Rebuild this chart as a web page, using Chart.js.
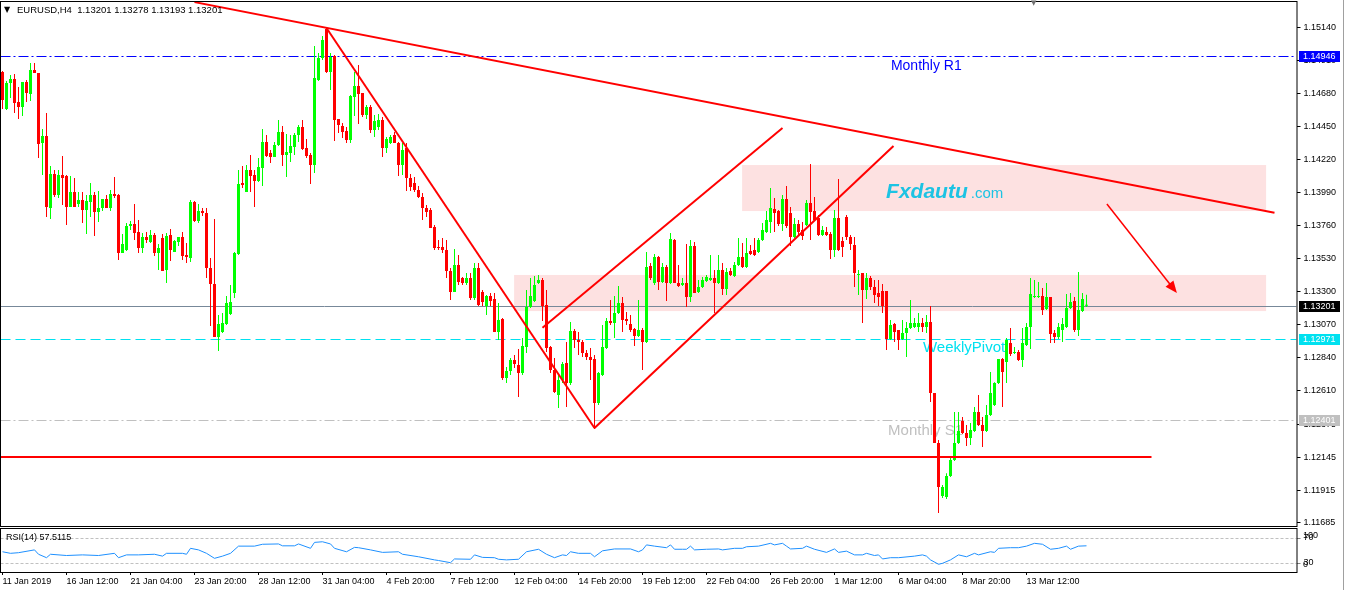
<!DOCTYPE html>
<html>
<head>
<meta charset="utf-8">
<title>EURUSD H4</title>
<script src="https://cdn.jsdelivr.net/npm/chart.js@4.4.1/dist/chart.umd.min.js"></script>
<style>
  html, body { margin: 0; padding: 0; background: #fff; }
  #wrap { position: relative; width: 1347px; height: 590px; overflow: hidden; background: #fff; }
  #main { position: absolute; left: 0; top: 0; }
  #rsi { position: absolute; left: 0; top: 527px; }
  #edge { position: absolute; left: 1343px; top: 0; width: 1px; height: 590px; background: #a0a0a0; }
</style>
</head>
<body>
<div id="wrap">
  <canvas id="main" width="1347" height="527"></canvas>
  <canvas id="rsi" width="1347" height="63"></canvas>
  <div id="edge"></div>
</div>
<script>
(function() {

    // EURUSD H4 candles, [open, high, low, close]
    let bars = [
      [1.14832, 1.14839, 1.14574, 1.14637], [1.14574, 1.14770, 1.14567, 1.14756], [1.14756, 1.14811, 1.14651, 1.14783], [1.14783, 1.14818, 1.14546, 1.14616],
      [1.14623, 1.14728, 1.14504, 1.14588], [1.14588, 1.14763, 1.14525, 1.14763], [1.14763, 1.14777, 1.14623, 1.14686], [1.14679, 1.14895, 1.14630, 1.14846],
      [1.14846, 1.14895, 1.14825, 1.14825], [1.14825, 1.14825, 1.14232, 1.14330], [1.14337, 1.14434, 1.14113, 1.14386], [1.14386, 1.14546, 1.13820, 1.13890],
      [1.13883, 1.14176, 1.13806, 1.14120], [1.14120, 1.14148, 1.13960, 1.13974], [1.13974, 1.14148, 1.13953, 1.14113], [1.14113, 1.14246, 1.13904, 1.14093],
      [1.14107, 1.14113, 1.13764, 1.13890], [1.13890, 1.14107, 1.13890, 1.13995], [1.13995, 1.14093, 1.13890, 1.13890], [1.13911, 1.13995, 1.13890, 1.13939],
      [1.13939, 1.13995, 1.13778, 1.13869], [1.13869, 1.13974, 1.13702, 1.13932], [1.13925, 1.14058, 1.13820, 1.13974], [1.13974, 1.13995, 1.13688, 1.13855],
      [1.13855, 1.14002, 1.13785, 1.13883], [1.13883, 1.13946, 1.13862, 1.13946], [1.13946, 1.13974, 1.13883, 1.13883], [1.13883, 1.14009, 1.13862, 1.13981],
      [1.13981, 1.14100, 1.13953, 1.13967], [1.13974, 1.13981, 1.13520, 1.13569], [1.13569, 1.13702, 1.13569, 1.13632], [1.13590, 1.13778, 1.13583, 1.13758],
      [1.13758, 1.13792, 1.13730, 1.13771], [1.13771, 1.13911, 1.13660, 1.13709], [1.13716, 1.13799, 1.13569, 1.13604], [1.13604, 1.13709, 1.13569, 1.13681],
      [1.13681, 1.13716, 1.13639, 1.13660], [1.13646, 1.13730, 1.13639, 1.13695], [1.13695, 1.13709, 1.13548, 1.13569], [1.13569, 1.13632, 1.13450, 1.13604],
      [1.13674, 1.13702, 1.13443, 1.13443], [1.13450, 1.13709, 1.13360, 1.13688], [1.13695, 1.13737, 1.13513, 1.13590], [1.13576, 1.13660, 1.13576, 1.13653],
      [1.13646, 1.13681, 1.13618, 1.13681], [1.13681, 1.13716, 1.13520, 1.13548], [1.13555, 1.13639, 1.13499, 1.13541], [1.13534, 1.13939, 1.13506, 1.13925],
      [1.13925, 1.13932, 1.13785, 1.13792], [1.13792, 1.13911, 1.13778, 1.13862], [1.13862, 1.13883, 1.13827, 1.13848], [1.13848, 1.13883, 1.13395, 1.13464],
      [1.13464, 1.13534, 1.13059, 1.13353], [1.13353, 1.13806, 1.12983, 1.12983], [1.12983, 1.13136, 1.12885, 1.13073], [1.13018, 1.13150, 1.13011, 1.13080],
      [1.13073, 1.13269, 1.13066, 1.13220], [1.13143, 1.13346, 1.13136, 1.13227], [1.13290, 1.13576, 1.13255, 1.13569], [1.13562, 1.14148, 1.13555, 1.14051],
      [1.14058, 1.14176, 1.14023, 1.14044], [1.13995, 1.14183, 1.13995, 1.14148], [1.14148, 1.14253, 1.13995, 1.14107], [1.14113, 1.14148, 1.13890, 1.14072],
      [1.14072, 1.14232, 1.14065, 1.14169], [1.14162, 1.14434, 1.14037, 1.14344], [1.14344, 1.14393, 1.14239, 1.14246], [1.14267, 1.14288, 1.14197, 1.14239],
      [1.14239, 1.14344, 1.14239, 1.14323], [1.14323, 1.14497, 1.14316, 1.14414], [1.14414, 1.14456, 1.14176, 1.14253], [1.14253, 1.14400, 1.14100, 1.14274],
      [1.14267, 1.14393, 1.14204, 1.14316], [1.14309, 1.14407, 1.14253, 1.14393], [1.14393, 1.14463, 1.14344, 1.14449], [1.14449, 1.14497, 1.14288, 1.14295],
      [1.14302, 1.14365, 1.14232, 1.14246], [1.14253, 1.14267, 1.14051, 1.14183], [1.14183, 1.15014, 1.14127, 1.14791], [1.14777, 1.14965, 1.14770, 1.14930],
      [1.14930, 1.15084, 1.14916, 1.15056], [1.15133, 1.15147, 1.14825, 1.14832], [1.14832, 1.14965, 1.14707, 1.14937], [1.14944, 1.14951, 1.14351, 1.14497],
      [1.14504, 1.14504, 1.14407, 1.14463], [1.14456, 1.14476, 1.14372, 1.14414], [1.14421, 1.14449, 1.14337, 1.14358], [1.14358, 1.14672, 1.14337, 1.14665],
      [1.14658, 1.14832, 1.14525, 1.14735], [1.14735, 1.14881, 1.14469, 1.14679], [1.14686, 1.14686, 1.14518, 1.14532], [1.14532, 1.14602, 1.14504, 1.14588],
      [1.14588, 1.14602, 1.14407, 1.14428], [1.14428, 1.14532, 1.14379, 1.14490], [1.14449, 1.14539, 1.14428, 1.14497], [1.14497, 1.14518, 1.14239, 1.14302],
      [1.14302, 1.14379, 1.14267, 1.14365], [1.14337, 1.14393, 1.14330, 1.14379], [1.14393, 1.14414, 1.14337, 1.14337], [1.14337, 1.14344, 1.14107, 1.14183],
      [1.14183, 1.14337, 1.14113, 1.14288], [1.14302, 1.14337, 1.14002, 1.14093], [1.14093, 1.14120, 1.14002, 1.14030], [1.14058, 1.14100, 1.13995, 1.14009],
      [1.14009, 1.14037, 1.13953, 1.13960], [1.13960, 1.13988, 1.13799, 1.13883], [1.13883, 1.13904, 1.13820, 1.13855], [1.13869, 1.13883, 1.13744, 1.13744],
      [1.13751, 1.13765, 1.13590, 1.13604], [1.13611, 1.13660, 1.13590, 1.13604], [1.13611, 1.13674, 1.13569, 1.13590], [1.13590, 1.13660, 1.13395, 1.13443],
      [1.13443, 1.13464, 1.13241, 1.13297], [1.13297, 1.13597, 1.13297, 1.13485], [1.13485, 1.13555, 1.13346, 1.13367], [1.13395, 1.13401, 1.13346, 1.13360],
      [1.13360, 1.13429, 1.13346, 1.13395], [1.13395, 1.13429, 1.13241, 1.13255], [1.13255, 1.13499, 1.13241, 1.13464], [1.13464, 1.13499, 1.13199, 1.13206],
      [1.13297, 1.13311, 1.13199, 1.13227], [1.13199, 1.13276, 1.13136, 1.13269], [1.13269, 1.13290, 1.13199, 1.13234], [1.13248, 1.13290, 1.13018, 1.13018],
      [1.13018, 1.13220, 1.12962, 1.13101], [1.13108, 1.13115, 1.12683, 1.12697], [1.12697, 1.12773, 1.12662, 1.12745], [1.12745, 1.12836, 1.12717, 1.12822],
      [1.12822, 1.12857, 1.12766, 1.12794], [1.12787, 1.12899, 1.12564, 1.12731], [1.12731, 1.12976, 1.12717, 1.12920], [1.12913, 1.13311, 1.12871, 1.13192],
      [1.13192, 1.13395, 1.13185, 1.13269], [1.13234, 1.13408, 1.13227, 1.13346], [1.13360, 1.13415, 1.13353, 1.13381], [1.13381, 1.13395, 1.13094, 1.13199],
      [1.13206, 1.13311, 1.12878, 1.12906], [1.12913, 1.12920, 1.12731, 1.12752], [1.12752, 1.12836, 1.12592, 1.12599], [1.12578, 1.12717, 1.12487, 1.12683],
      [1.12683, 1.12808, 1.12662, 1.12794], [1.12801, 1.12948, 1.12494, 1.12662], [1.12662, 1.13087, 1.12648, 1.13025], [1.13025, 1.13039, 1.12906, 1.12962],
      [1.12962, 1.13018, 1.12857, 1.12948], [1.12948, 1.12962, 1.12843, 1.12871], [1.12871, 1.12892, 1.12822, 1.12843], [1.12843, 1.12906, 1.12683, 1.12822],
      [1.12829, 1.12857, 1.12341, 1.12522], [1.12522, 1.12738, 1.12508, 1.12731], [1.12717, 1.13066, 1.12710, 1.12913], [1.12906, 1.13115, 1.12899, 1.13094],
      [1.13094, 1.13241, 1.13066, 1.13080], [1.13080, 1.13269, 1.12976, 1.13150], [1.13150, 1.13339, 1.13143, 1.13220], [1.13220, 1.13262, 1.13018, 1.13101],
      [1.13108, 1.13157, 1.13066, 1.13094], [1.13073, 1.13136, 1.13018, 1.13032], [1.13039, 1.13046, 1.12920, 1.12990], [1.12990, 1.13241, 1.12983, 1.13032],
      [1.13032, 1.13046, 1.12752, 1.12948], [1.12948, 1.13576, 1.12941, 1.13471], [1.13478, 1.13499, 1.13381, 1.13395], [1.13360, 1.13562, 1.13346, 1.13541],
      [1.13541, 1.13548, 1.13311, 1.13367], [1.13367, 1.13499, 1.13360, 1.13471], [1.13471, 1.13485, 1.13234, 1.13360], [1.13360, 1.13709, 1.13353, 1.13667],
      [1.13660, 1.13667, 1.13360, 1.13360], [1.13360, 1.13485, 1.13332, 1.13339], [1.13346, 1.13395, 1.13339, 1.13360], [1.13360, 1.13632, 1.13192, 1.13262],
      [1.13262, 1.13660, 1.13227, 1.13618], [1.13618, 1.13646, 1.13290, 1.13290], [1.13297, 1.13381, 1.13290, 1.13332], [1.13332, 1.13401, 1.13325, 1.13381],
      [1.13374, 1.13415, 1.13367, 1.13401], [1.13381, 1.13555, 1.13374, 1.13395], [1.13395, 1.13450, 1.13150, 1.13360], [1.13360, 1.13555, 1.13353, 1.13450],
      [1.13450, 1.13499, 1.13276, 1.13318], [1.13318, 1.13464, 1.13276, 1.13436], [1.13443, 1.13464, 1.13408, 1.13415], [1.13408, 1.13506, 1.13401, 1.13485],
      [1.13485, 1.13674, 1.13478, 1.13541], [1.13541, 1.13639, 1.13464, 1.13471], [1.13471, 1.13674, 1.13464, 1.13569], [1.13583, 1.13625, 1.13555, 1.13562],
      [1.13590, 1.13674, 1.13548, 1.13555], [1.13576, 1.13674, 1.13569, 1.13660], [1.13660, 1.13778, 1.13653, 1.13730], [1.13716, 1.13862, 1.13709, 1.13799],
      [1.13785, 1.14023, 1.13709, 1.13883], [1.13876, 1.13953, 1.13716, 1.13848], [1.13862, 1.13869, 1.13758, 1.13771], [1.13771, 1.13974, 1.13723, 1.13946],
      [1.13946, 1.14037, 1.13744, 1.13758], [1.13848, 1.13890, 1.13618, 1.13681], [1.13681, 1.13813, 1.13674, 1.13771], [1.13771, 1.13799, 1.13688, 1.13716],
      [1.13730, 1.13785, 1.13660, 1.13688], [1.13764, 1.13939, 1.13758, 1.13918], [1.13918, 1.14190, 1.13660, 1.13855], [1.13862, 1.13960, 1.13792, 1.13799],
      [1.13813, 1.13834, 1.13688, 1.13695], [1.13695, 1.13758, 1.13688, 1.13730], [1.13716, 1.13751, 1.13688, 1.13695], [1.13702, 1.13716, 1.13527, 1.13590],
      [1.13590, 1.13869, 1.13541, 1.13813], [1.13813, 1.14086, 1.13583, 1.13590], [1.13653, 1.13681, 1.13541, 1.13611], [1.13820, 1.13834, 1.13660, 1.13681],
      [1.13681, 1.13695, 1.13590, 1.13632], [1.13625, 1.13681, 1.13332, 1.13429], [1.13415, 1.13450, 1.13276, 1.13422], [1.13429, 1.13429, 1.13080, 1.13311],
      [1.13311, 1.13429, 1.13248, 1.13395], [1.13395, 1.13408, 1.13311, 1.13332], [1.13332, 1.13381, 1.13220, 1.13276], [1.13290, 1.13381, 1.13199, 1.13262],
      [1.13304, 1.13353, 1.13150, 1.13199], [1.13304, 1.13304, 1.12892, 1.12969], [1.12969, 1.13101, 1.12962, 1.13066], [1.13073, 1.13080, 1.12948, 1.13018],
      [1.13032, 1.13032, 1.12892, 1.12962], [1.12969, 1.13101, 1.12962, 1.13011], [1.13011, 1.13087, 1.12843, 1.13046], [1.13046, 1.13241, 1.13039, 1.13080],
      [1.13052, 1.13115, 1.13046, 1.13080], [1.13052, 1.13150, 1.13018, 1.13080], [1.13080, 1.13115, 1.13018, 1.13052], [1.13052, 1.13136, 1.13011, 1.13087],
      [1.13087, 1.13199, 1.12529, 1.12592], [1.12592, 1.12592, 1.12243, 1.12243], [1.12243, 1.12264, 1.11754, 1.11936], [1.11873, 1.11950, 1.11859, 1.11936],
      [1.11866, 1.12033, 1.11852, 1.12013], [1.12013, 1.12152, 1.12006, 1.12124], [1.12124, 1.12459, 1.12117, 1.12243], [1.12243, 1.12459, 1.12236, 1.12327],
      [1.12396, 1.12424, 1.12306, 1.12313], [1.12313, 1.12369, 1.12222, 1.12278], [1.12278, 1.12382, 1.12229, 1.12334], [1.12327, 1.12494, 1.12320, 1.12459],
      [1.12459, 1.12578, 1.12362, 1.12369], [1.12369, 1.12424, 1.12215, 1.12327], [1.12327, 1.12508, 1.12320, 1.12438], [1.12438, 1.12738, 1.12431, 1.12592],
      [1.12508, 1.12668, 1.12501, 1.12662], [1.12662, 1.12829, 1.12655, 1.12829], [1.12829, 1.12836, 1.12494, 1.12738], [1.12808, 1.12976, 1.12662, 1.12962],
      [1.12941, 1.13046, 1.12850, 1.12864], [1.12871, 1.12913, 1.12864, 1.12878], [1.12878, 1.12892, 1.12815, 1.12822], [1.12822, 1.13046, 1.12773, 1.12941],
      [1.12927, 1.13080, 1.12920, 1.13052], [1.13052, 1.13395, 1.12899, 1.13283], [1.13262, 1.13381, 1.13255, 1.13269], [1.13262, 1.13367, 1.13255, 1.13269],
      [1.13269, 1.13325, 1.13136, 1.13171], [1.13178, 1.13360, 1.13171, 1.13262], [1.13262, 1.13262, 1.12941, 1.13004], [1.13011, 1.13032, 1.12941, 1.12983],
      [1.12983, 1.13080, 1.12969, 1.13052], [1.13032, 1.13115, 1.12948, 1.13073], [1.13052, 1.13283, 1.13046, 1.13185], [1.13185, 1.13290, 1.13178, 1.13227],
      [1.13234, 1.13262, 1.13018, 1.13032], [1.13032, 1.13436, 1.12990, 1.13171], [1.13164, 1.13290, 1.13157, 1.13248], [1.13201, 1.13278, 1.13193, 1.13201]
    ];

    // RSI(14): bar index and value
    let rsiBars = [0, 2, 4, 8, 9, 11, 12, 16, 20, 24, 28, 29, 31, 34, 38, 40, 41, 45, 46, 47, 49, 51, 53, 55, 57, 59, 63, 65, 69, 70,
      73, 74, 77, 78, 80, 82, 83, 86, 88, 89, 92, 95, 99, 100, 104, 108, 109, 112, 113, 117, 118, 120, 123, 124, 126, 129, 131, 134, 136, 138,
      140, 141, 142, 144, 147, 148, 150, 153, 157, 159, 160, 161, 163, 166, 167, 168, 170, 171, 172, 173, 176, 179, 180, 183, 185, 186, 189, 192, 193, 195,
      196, 197, 200, 201, 203, 206, 208, 209, 211, 213, 215, 216, 218, 219, 220, 222, 224, 228, 230, 231, 232, 234, 235, 237, 239, 241, 243, 244, 247, 248,
      249, 252, 254, 256, 258, 260, 262, 264, 266, 267, 269, 271];
    let rsiValues = [48, 45.5, 46.5, 51, 44, 38.5, 44, 42, 43, 42, 45.5, 38.5, 43, 43, 44, 41, 45.5, 45.5, 44, 53.5, 51, 45.5, 37.5, 41, 45.5, 57, 57, 60, 60.5, 57.5,
      57.5, 60.5, 53.5, 63, 64, 60.5, 53.5, 48, 55, 54.5, 51, 47, 48, 44, 40, 35, 34, 30.5, 36.5, 36, 43, 39, 38.5, 36, 35, 36, 48, 52, 44, 38.5,
      43, 42, 48, 45.5, 45.5, 40, 49.5, 52.5, 52.5, 48, 51, 59, 57, 54.5, 59, 52, 52, 52, 57, 51, 52, 52.5, 51, 53.5, 53.5, 56, 57, 61.5, 59, 61.5,
      57, 52.5, 53.5, 57, 52, 47, 52.5, 47, 49, 43, 43, 45.5, 42, 43, 36.5, 38.5, 38.5, 41, 43, 41, 35, 28, 29.5, 35, 43, 40, 45.5, 43, 48, 47,
      53.5, 54.5, 54.5, 57, 61.5, 60, 52, 53.5, 57, 52, 57, 57.5115];

    let rsiLevels = [70, 30];

    // time axis labels, one every 16 bars
    let timeLabels = ['11 Jan 2019', '16 Jan 12:00', '21 Jan 04:00', '23 Jan 20:00', '28 Jan 12:00', '31 Jan 04:00', '4 Feb 20:00', '7 Feb 12:00',
      '12 Feb 04:00', '14 Feb 20:00', '19 Feb 12:00', '22 Feb 04:00', '26 Feb 20:00', '1 Mar 12:00', '6 Mar 04:00', '8 Mar 20:00', '13 Mar 12:00'];
    let labelStep = 16;

    let priceTicks = [1.15140, 1.14910, 1.14680, 1.14450, 1.14220, 1.13990, 1.13760, 1.13530, 1.13300,
      1.13070, 1.12840, 1.12610, 1.12375, 1.12145, 1.11915, 1.11685];

    // horizontal levels drawn across the chart
    let levels = {
      monthlyR1: 1.14946,
      weeklyPivot: 1.12971,
      monthlyS1: 1.12401,
      bid: 1.13201,
      support: 1.12145
    };

    // trend lines: [bar, price] -> [bar, price]
    let trendLines = [
      [[48, 1.15320], [318, 1.13850]],
      [[81, 1.15140], [148, 1.12348]],
      [[135, 1.13048], [195, 1.14442]],
      [[148, 1.12348], [222.75, 1.14316]]
    ];
    let supportEnd = 287.25;
    let arrow = [[276.1, 1.13911], [293.6, 1.13290]];

    // shaded zones: bar from, bar to, upper price, lower price
    let zones = [
      [184.9, 315.9, 1.14183, 1.13862],
      [127.9, 315.9, 1.13416, 1.13164]
    ];

    let slots = 324;
    let priceMin = 1.11664, priceMax = 1.15321;
    let rsiMin = 15.6, rsiMax = 86;

    let font = "'Liberation Sans', Arial, sans-serif";
    let green = '#00ff00', red = '#ff0000', cyan = '#00e1f0';

    Chart.defaults.font.family = font;
    Chart.defaults.font.size = 9;
    Chart.defaults.color = '#000';

    let candleColor = b => b[3] >= b[0] ? green : red;

    /**
     * Draws objects, levels and labels of the price window
     */
    let overlay = {
        id: 'overlay',
        beforeDatasetsDraw(chart) {
            let { ctx, chartArea: a, scales: { x, y } } = chart;
            ctx.save();
            ctx.beginPath();
            ctx.rect(a.left, a.top, a.right - a.left, a.bottom - a.top);
            ctx.clip();

            ctx.fillStyle = '#fde1e1';
            zones.forEach(z => {
                let x0 = x.getPixelForValue(z[0]), x1 = x.getPixelForValue(z[1]);
                let y0 = y.getPixelForValue(z[2]), y1 = y.getPixelForValue(z[3]);
                ctx.fillRect(x0, y0, x1 - x0, y1 - y0);
            });

            let hline = (price, color, dash) => {
                let yy = Math.round(y.getPixelForValue(price)) + 0.5;
                ctx.strokeStyle = color;
                ctx.lineWidth = 1;
                ctx.setLineDash(dash);
                ctx.beginPath();
                ctx.moveTo(a.left, yy);
                ctx.lineTo(a.right, yy);
                ctx.stroke();
            };
            hline(levels.monthlyR1, '#0000ff', [10, 3, 2, 3]);
            hline(levels.weeklyPivot, cyan, [10, 5]);
            hline(levels.monthlyS1, '#c0c0c0', [10, 3, 2, 3]);
            hline(levels.bid, '#778899', []);
            ctx.setLineDash([]);

            let caption = (text, bar, price, color, f) => {
                ctx.font = f;
                ctx.fillStyle = color;
                ctx.textBaseline = 'alphabetic';
                ctx.textAlign = 'left';
                ctx.fillText(text, x.getPixelForValue(bar), y.getPixelForValue(price));
            };
            caption('Monthly R1', 222.1, 1.14846, '#0000ff', '14px ' + font);
            caption('WeeklyPivot', 230.1, 1.12878, cyan, '15px ' + font);
            caption('Monthly S1', 221.4, 1.12299, '#c0c0c0', '15px ' + font);
            caption('Fxdautu', 220.9, 1.13953, '#1cc3e3', 'italic bold 21px ' + font);
            ctx.font = 'italic bold 21px ' + font;
            let w = ctx.measureText('Fxdautu').width;
            ctx.font = '15px ' + font;
            ctx.fillStyle = '#1cc3e3';
            ctx.fillText('.com', x.getPixelForValue(220.9) + w + 3, y.getPixelForValue(1.13953));
            ctx.restore();
        },
        afterDatasetsDraw(chart) {
            let { ctx, chartArea: a, scales: { x, y } } = chart;
            let pt = p => [x.getPixelForValue(p[0]), y.getPixelForValue(p[1])];
            ctx.save();
            ctx.beginPath();
            ctx.rect(a.left, a.top, a.right - a.left, a.bottom - a.top);
            ctx.clip();
            ctx.strokeStyle = red;
            ctx.fillStyle = red;
            ctx.lineWidth = 2;

            trendLines.forEach(t => {
                let p0 = pt(t[0]), p1 = pt(t[1]);
                ctx.beginPath();
                ctx.moveTo(p0[0], p0[1]);
                ctx.lineTo(p1[0], p1[1]);
                ctx.stroke();
            });

            let sy = Math.round(y.getPixelForValue(levels.support));
            ctx.beginPath();
            ctx.moveTo(a.left, sy);
            ctx.lineTo(x.getPixelForValue(supportEnd), sy);
            ctx.stroke();

            let p0 = pt(arrow[0]), p1 = pt(arrow[1]);
            let ang = Math.atan2(p1[1] - p0[1], p1[0] - p0[0]);
            ctx.lineWidth = 1.5;
            ctx.beginPath();
            ctx.moveTo(p0[0], p0[1]);
            ctx.lineTo(p1[0] - 8 * Math.cos(ang), p1[1] - 8 * Math.sin(ang));
            ctx.stroke();
            ctx.beginPath();
            ctx.moveTo(p1[0], p1[1]);
            ctx.lineTo(p1[0] - 12 * Math.cos(ang) + 5 * Math.sin(ang), p1[1] - 12 * Math.sin(ang) - 5 * Math.cos(ang));
            ctx.lineTo(p1[0] - 12 * Math.cos(ang) - 5 * Math.sin(ang), p1[1] - 12 * Math.sin(ang) + 5 * Math.cos(ang));
            ctx.closePath();
            ctx.fill();
            ctx.restore();
        },
        afterDraw(chart) {
            let { ctx, chartArea: a, scales: { y } } = chart;
            ctx.save();
            ctx.strokeStyle = '#000';
            ctx.lineWidth = 1;
            ctx.strokeRect(0.5, 1.5, Math.round(a.right) - 0.5, 525);

            // price tags on the axis
            let tag = (price, bg) => {
                let yy = Math.round(y.getPixelForValue(price));
                ctx.fillStyle = bg;
                ctx.fillRect(a.right + 2.5, yy - 5, 41, 11);
                ctx.fillStyle = '#fff';
                ctx.font = '9px ' + font;
                ctx.textBaseline = 'middle';
                ctx.textAlign = 'left';
                ctx.fillText(price.toFixed(5), a.right + 6.5, yy + 0.5);
            };
            tag(levels.monthlyR1, '#0000ff');
            tag(levels.bid, '#000000');
            tag(levels.weeklyPivot, cyan);
            tag(levels.monthlyS1, '#c0c0c0');

            // window header
            let last = bars[bars.length - 1];
            ctx.fillStyle = '#000';
            ctx.font = '8px DejaVu Sans';
            ctx.textBaseline = 'middle';
            ctx.fillText('\u25BC', 4, 10);
            ctx.font = '9.5px ' + font;
            ctx.fillText('EURUSD,H4  ' + last.map(v => v.toFixed(5)).join(' '), 17, 10.5);
            ctx.fillStyle = '#707070';
            ctx.font = '7px DejaVu Sans';
            ctx.fillText('\u25BC', 1031, 3);
            ctx.restore();
        }
    };

    /**
     * Draws the RSI panel frame, levels and header
     */
    let rsiOverlay = {
        id: 'rsiOverlay',
        beforeDatasetsDraw(chart) {
            let { ctx, chartArea: a, scales: { y } } = chart;
            ctx.save();
            ctx.strokeStyle = '#c0c0c0';
            ctx.lineWidth = 1;
            ctx.setLineDash([3, 2]);
            rsiLevels.forEach(l => {
                let yy = Math.round(y.getPixelForValue(l)) + 0.5;
                ctx.beginPath();
                ctx.moveTo(a.left, yy);
                ctx.lineTo(a.right, yy);
                ctx.stroke();
            });
            ctx.restore();
        },
        afterDraw(chart) {
            let { ctx, chartArea: a, scales: { y } } = chart;
            ctx.save();
            ctx.strokeStyle = '#000';
            ctx.lineWidth = 1;
            ctx.strokeRect(0.5, 1.5, Math.round(a.right) - 0.5, 44);
            ctx.fillStyle = '#000';
            ctx.font = '9px ' + font;
            ctx.textBaseline = 'middle';
            ctx.fillText('RSI(14) ' + rsiValues[rsiValues.length - 1].toFixed(4), 6, 10.5);
            ctx.fillText('100', a.right + 6.5, y.getPixelForValue(rsiLevels[0]) - 2);
            ctx.fillText('0', a.right + 6.5, y.getPixelForValue(rsiLevels[1]) + 2);
            ctx.restore();
        }
    };

    let noPad = s => { s.paddingTop = 0; s.paddingBottom = 0; s.paddingLeft = 0; s.paddingRight = 0; };

    new Chart(document.getElementById('main'), {
        type: 'bar',
        data: {
            labels: Array.from({ length: slots }, (_, i) => i),
            datasets: [
                {
                    label: 'wick',
                    data: bars.map(b => [b[2], b[1]]),
                    backgroundColor: bars.map(candleColor),
                    barThickness: 1,
                    minBarLength: 1
                },
                {
                    label: 'body',
                    data: bars.map(b => [b[0], b[3]]),
                    backgroundColor: bars.map(candleColor),
                    barThickness: 3,
                    minBarLength: 1
                }
            ]
        },
        options: {
            responsive: false,
            animation: false,
            events: [],
            layout: { padding: { left: 0.5, top: 2, right: 0, bottom: 1 } },
            datasets: { bar: { grouped: false, inflateAmount: 0, borderWidth: 0, borderSkipped: false } },
            plugins: { legend: { display: false }, tooltip: { enabled: false } },
            scales: {
                x: { display: false, offset: true },
                y: {
                    position: 'right',
                    min: priceMin,
                    max: priceMax,
                    afterBuildTicks: s => { s.ticks = priceTicks.map(v => ({ value: v })); },
                    afterFit: s => { s.width = 50.5; noPad(s); },
                    ticks: { autoSkip: false, padding: 3, color: '#000', font: { size: 9 }, callback: v => Number(v).toFixed(5) },
                    grid: { drawOnChartArea: false, drawTicks: true, tickLength: 4, color: '#000' },
                    border: { display: false }
                }
            }
        },
        plugins: [overlay]
    });

    new Chart(document.getElementById('rsi'), {
        type: 'line',
        data: {
            datasets: [{
                label: 'RSI(14)',
                data: rsiBars.map((b, i) => ({ x: b, y: rsiValues[i] })),
                borderColor: '#1e90ff',
                borderWidth: 1,
                pointRadius: 0,
                tension: 0
            }]
        },
        options: {
            responsive: false,
            animation: false,
            events: [],
            layout: { padding: { left: 0.5, top: 1, right: 0, bottom: 0 } },
            plugins: { legend: { display: false }, tooltip: { enabled: false } },
            scales: {
                x: {
                    type: 'linear',
                    min: -0.5,
                    max: slots - 0.5,
                    afterBuildTicks: s => { s.ticks = timeLabels.map((t, i) => ({ value: i * labelStep })); },
                    afterFit: s => { s.height = 18; noPad(s); },
                    ticks: { autoSkip: false, maxRotation: 0, align: 'start', padding: 1, color: '#000', font: { size: 9 },
                        callback: v => timeLabels[Math.round(v / labelStep)] },
                    grid: { drawOnChartArea: false, drawTicks: true, tickLength: 3, color: '#000' },
                    border: { display: false }
                },
                y: {
                    position: 'right',
                    min: rsiMin,
                    max: rsiMax,
                    afterBuildTicks: s => { s.ticks = rsiLevels.map(v => ({ value: v })); },
                    afterFit: s => { s.width = 50.5; noPad(s); },
                    ticks: { autoSkip: false, padding: 3, color: '#000', font: { size: 9 }, callback: v => String(v) },
                    grid: { drawOnChartArea: false, drawTicks: true, tickLength: 4, color: '#808080' },
                    border: { display: false }
                }
            }
        },
        plugins: [rsiOverlay]
    });

})();
</script>
</body>
</html>
